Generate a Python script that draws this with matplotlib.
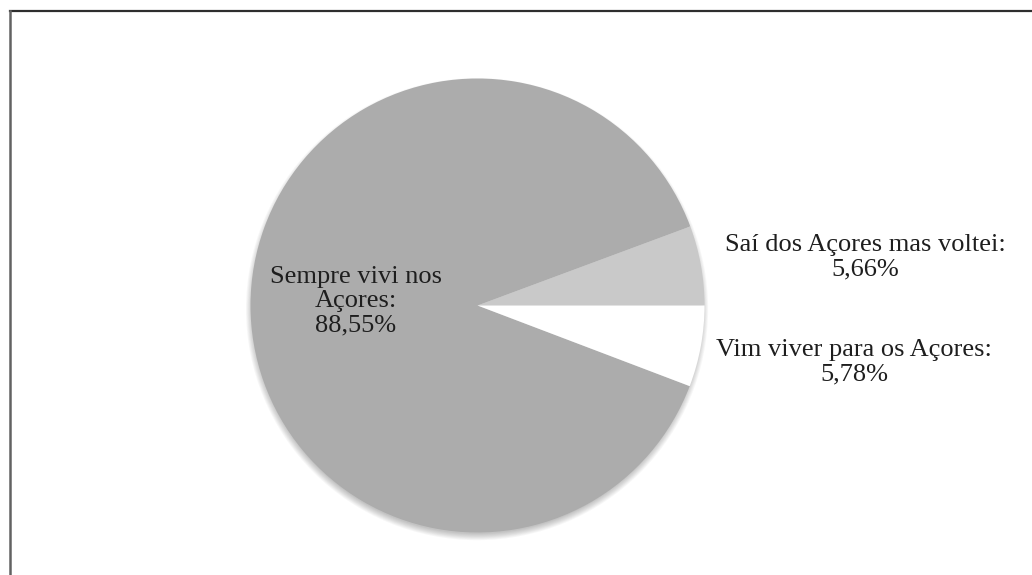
import matplotlib
matplotlib.use("Agg")
import matplotlib.pyplot as plt
from matplotlib.lines import Line2D
from matplotlib.patches import Circle

plt.rcParams['font.family'] = ['Liberation Serif', 'DejaVu Serif']

categories = ["Sempre vivi nos\nAçores", "Saí dos Açores mas voltei", "Vim viver para os Açores"]
values = [88.55, 5.66, 5.78]
colors = ["#acacac", "#c9c9c9", "#ffffff"]
label_pos = [(-0.535, 0.02), (1.707, 0.214), (1.659, -0.249)]

W, H = 1032, 575
fig = plt.figure(figsize=(W / 100, H / 100), dpi=100)
fig.patch.set_facecolor("white")

# chart frame (top and left edges visible)
fig.add_artist(Line2D([9.5 / W, 1.0], [1 - 10.5 / H, 1 - 10.5 / H],
                      transform=fig.transFigure, color="#2e2e2e", lw=1.6))
fig.add_artist(Line2D([9.5 / W, 9.5 / W], [1 - 10.5 / H, 0.0],
                      transform=fig.transFigure, color="#626262", lw=1.8))

r_px = 227
cx, cy = 477.5, 305.5
ax = fig.add_axes([(cx - r_px) / W, (H - cy - r_px) / H, 2 * r_px / W, 2 * r_px / H])

# soft shadow beneath the pie
for k in range(8):
    ax.add_patch(Circle((-0.002, -0.016), 0.99 + 0.004 * k, facecolor="#000000",
                        edgecolor="none", alpha=0.03, zorder=0, clip_on=False))

start = 360 - values[2] * 3.6
wedges, _ = ax.pie(values, colors=colors, startangle=start, counterclock=False,
                   radius=1.0, wedgeprops=dict(edgecolor="none", linewidth=0))
for w in wedges:
    w.set_zorder(2)

ax.set_xlim(-1, 1)
ax.set_ylim(-1, 1)
ax.set_aspect("equal")
ax.axis("off")

for cat, v, (x, y) in zip(categories, values, label_pos):
    txt = f"{cat}:\n{v:.2f}%".replace(".", ",")
    ax.text(x, y, txt, ha="center", va="center", fontsize=19, color="#1e1e1e",
            linespacing=1.14, zorder=5, clip_on=False)

fig.savefig("out.png", dpi=100, facecolor="white")
